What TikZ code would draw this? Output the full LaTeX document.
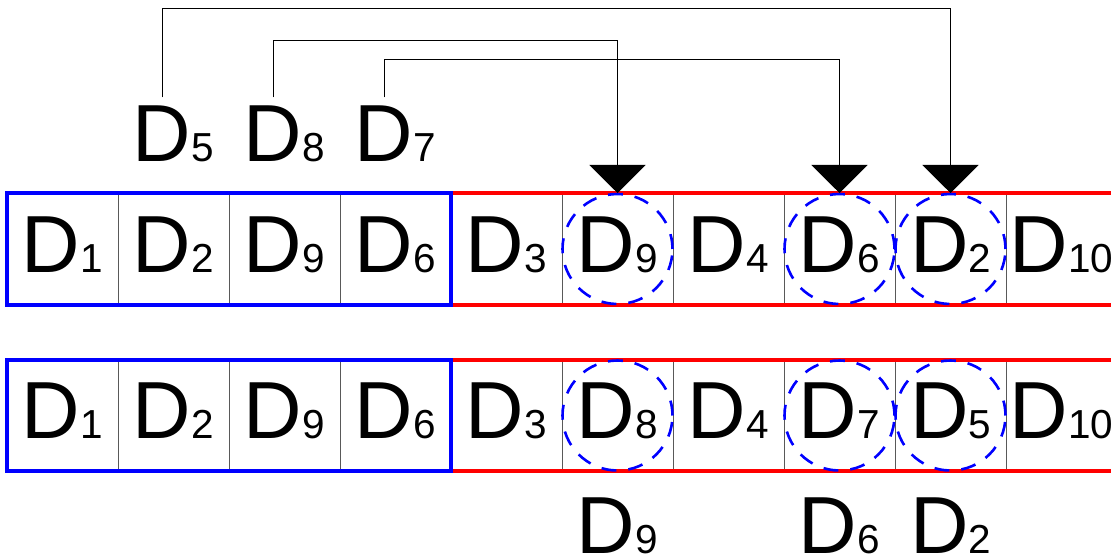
\documentclass[tikz,border=0pt]{standalone}
\usepackage{fontspec}
\setmainfont{Liberation Sans}
\usetikzlibrary{arrows.meta}
% big "D" with a smaller digit sitting on the same baseline
\newcommand\dlab[1]{\fontsize{81}{81}\selectfont D{\fontsize{40.5}{40}\selectfont #1}}
\begin{document}
\begin{tikzpicture}[x=1pt,y=1pt,
  cell/.style={draw=black!65, line width=0.8pt, minimum width=111pt,
    minimum height=112pt, inner sep=0pt, outer sep=0pt},
  lbl/.style={anchor=base, inner sep=0pt, outer sep=0pt},
  conn/.style={draw=black, line width=0.9pt,
    -{Triangle[length=28pt,width=56pt]}},
  ring/.style={circle, draw=blue, line width=2.6pt, minimum size=110pt,
    inner sep=0pt, dash pattern=on 15pt off 12pt},
  bluebox/.style={draw=blue, line width=4pt},
  redline/.style={draw=red, line width=4pt}]
\useasboundingbox (0,0) rectangle (1111,555);
\clip (0,0) rectangle (1111,555);

% upper row of cells
\foreach \i/\t in {1/1,2/2,3/9,4/6,5/3,6/9,7/4,8/6,9/2,10/10}{
  \node[cell] (a\i) at ({7+111*(\i-0.5)},306) {};
  \node[lbl] (ta\i) at ([yshift=-24pt]a\i.center) {\dlab{\t}};
}
% lower row of cells
\foreach \i/\t in {1/1,2/2,3/9,4/6,5/3,6/8,7/4,8/7,9/5,10/10}{
  \node[cell, minimum height=111pt] (b\i) at ({7+111*(\i-0.5)},139.5) {};
  \node[lbl] (tb\i) at ([yshift=-22.5pt]b\i.center) {\dlab{\t}};
}

% red rails on the open part, blue frame on the first four cells
\foreach \r in {a,b}{
  \draw[redline] (\r4.north east) -- (\r10.north east);
  \draw[redline] (\r4.south east) -- (\r10.south east);
  \draw[bluebox] (\r1.north west) rectangle (\r4.south east);
}

% dashed rings on the replaced cells
\foreach \i in {6,8,9}{
  \node[ring] (ra\i) at (a\i.center) {};
  \node[ring] (rb\i) at (b\i.center) {};
}

% incoming items above the upper row
\node[lbl] (l5) at (a2.center |- 0,393) {\dlab{5}};
\node[lbl] (l8) at (a3.center |- 0,393) {\dlab{8}};
\node[lbl] (l7) at (a4.center |- 0,393) {\dlab{7}};

% outgoing items below the lower row
\node[lbl] (o9) at (b6.center |- 0,2) {\dlab{9}};
\node[lbl] (o6) at (b8.center |- 0,2) {\dlab{6}};
\node[lbl] (o2) at (b9.center |- 0,2) {\dlab{2}};

% routing of the incoming items
\draw[conn] ([shift={(-11pt,9pt)}]l5.north) -- ++(0,89) -| (a9.north);
\draw[conn] ([shift={(-11pt,9pt)}]l8.north) -- ++(0,57) -| (a6.north);
\draw[conn] ([shift={(-11pt,9pt)}]l7.north) -- ++(0,38) -| (a8.north);
\end{tikzpicture}
\end{document}
